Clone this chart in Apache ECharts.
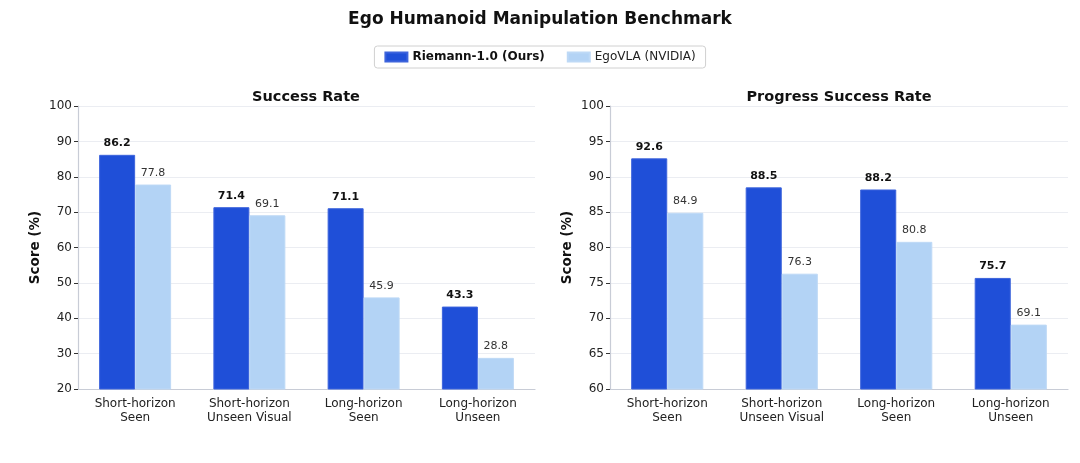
<!DOCTYPE html>
<html lang="en">
<head>
<meta charset="UTF-8">
<title>Ego Humanoid Manipulation Benchmark</title>
<script src="https://cdn.jsdelivr.net/npm/echarts@6/dist/echarts.min.js"></script>
<style>
  html, body { margin: 0; padding: 0; background: #fff; }
  #main { width: 1080px; height: 463px; }
</style>
</head>
<body>
<div id="main"></div>
<script type="text/javascript">
    // data
    var categories = ['Short-horizon\nSeen', 'Short-horizon\nUnseen Visual', 'Long-horizon\nSeen', 'Long-horizon\nUnseen'];
    var seriesNames = ['Riemann-1.0 (Ours)', 'EgoVLA (NVIDIA)'];
    var successOurs = [86.2, 71.4, 71.1, 43.3];
    var successEgo = [77.8, 69.1, 45.9, 28.8];
    var progressOurs = [92.6, 88.5, 88.2, 75.7];
    var progressEgo = [84.9, 76.3, 80.8, 69.1];

    var FONT = 'DejaVu Sans';
    var DARK = '#1f4fd8';
    var LIGHT = '#b3d3f5';

    var myChart = echarts.init(document.getElementById('main'));

    function xAxisFor(idx) {
        return {
            type: 'category',
            gridIndex: idx,
            data: categories,
            axisLine: { lineStyle: { color: '#c8ccd6', width: 1.2 } },
            axisTick: { alignWithLabel: true, length: 4, lineStyle: { color: '#333' } },
            axisLabel: { color: '#222', fontFamily: FONT, fontSize: 12, lineHeight: 14, margin: 8 }
        };
    }

    function yAxisFor(idx, min, max, step) {
        return {
            type: 'value',
            gridIndex: idx,
            min: min, max: max, interval: step,
            name: 'Score (%)',
            nameLocation: 'middle',
            nameGap: 36,
            nameTextStyle: { fontFamily: FONT, fontWeight: 'bold', fontSize: 13.5, color: '#111' },
            axisLine: { show: true, lineStyle: { color: '#c8ccd6', width: 1.2 } },
            axisTick: { show: true, length: 4, lineStyle: { color: '#333' } },
            axisLabel: { color: '#222', fontFamily: FONT, fontSize: 12, margin: 6 },
            splitLine: { lineStyle: { color: '#ebedf2', width: 1 } }
        };
    }

    function barSeries(name, idx, data, ours) {
        return {
            name: name,
            type: 'bar',
            xAxisIndex: idx,
            yAxisIndex: idx,
            data: data,
            barGap: '0%',
            barCategoryGap: '37%',
            itemStyle: { color: ours ? DARK : LIGHT, borderColor: ours ? '#3d64dc' : '#bed9f6', borderWidth: 1 },
            label: {
                show: true,
                position: 'top',
                distance: ours ? 6 : 6,
                fontFamily: FONT,
                fontSize: 11,
                fontWeight: ours ? 'bold' : 'normal',
                color: ours ? '#111' : '#333',
                formatter: function (p) { return p.value.toFixed(1); }
            }
        };
    }

    myChart.setOption({
        animation: false,
        textStyle: { fontFamily: FONT },
        title: [
            { text: 'Ego Humanoid Manipulation Benchmark', left: 'center', top: 6,
              textStyle: { fontFamily: FONT, fontSize: 17, fontWeight: 'bold', color: '#111' } },
            { text: 'Success Rate', left: 301, top: 85, textAlign: 'center',
              textStyle: { fontFamily: FONT, fontSize: 14.5, fontWeight: 'bold', color: '#111' } },
            { text: 'Progress Success Rate', left: 834, top: 85, textAlign: 'center',
              textStyle: { fontFamily: FONT, fontSize: 14.5, fontWeight: 'bold', color: '#111' } }
        ],
        legend: {
            data: seriesNames,
            left: 'center',
            top: 46,
            padding: [5, 10, 5, 10],
            itemGap: 22,
            itemWidth: 22,
            itemHeight: 9,
            borderColor: '#d0d0d0',
            borderWidth: 1,
            borderRadius: 3,
            icon: 'rect',
            textStyle: {
                fontFamily: FONT, fontSize: 12, color: '#222',
                rich: { b: { fontFamily: FONT, fontSize: 12, fontWeight: 'bold', color: '#111' } }
            },
            formatter: function (name) {
                return name === seriesNames[0] ? '{b|' + name + '}' : name;
            }
        },
        grid: [
            { left: 78, right: 545, top: 106, bottom: 74 },
            { left: 610, right: 12, top: 106, bottom: 74 }
        ],
        xAxis: [xAxisFor(0), xAxisFor(1)],
        yAxis: [yAxisFor(0, 20, 100, 10), yAxisFor(1, 60, 100, 5)],
        series: [
            barSeries(seriesNames[0], 0, successOurs, true),
            barSeries(seriesNames[1], 0, successEgo, false),
            barSeries(seriesNames[0], 1, progressOurs, true),
            barSeries(seriesNames[1], 1, progressEgo, false)
        ]
    });
</script>
</body>
</html>
